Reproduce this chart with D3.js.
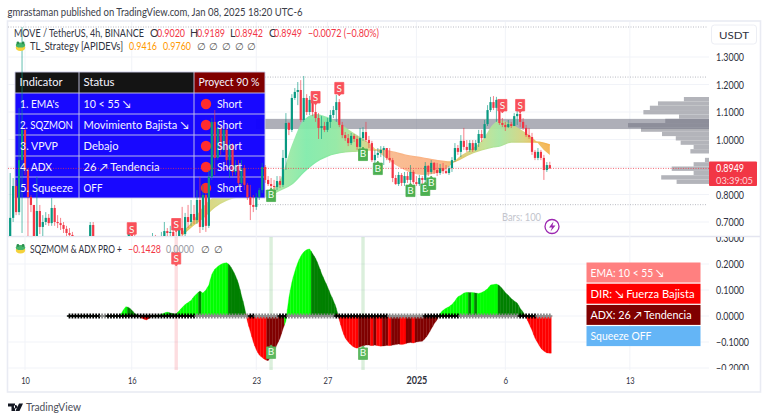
<!DOCTYPE html>
<html><head><meta charset="utf-8">
<script src="https://cdn.jsdelivr.net/npm/d3@7/dist/d3.min.js"></script>
<style>html,body{margin:0;padding:0;background:#fff}svg{display:block}text{font-family:Lato,"Noto Sans",sans-serif}</style>
</head><body><svg id="c" width="768" height="420"></svg>
<script>
// ---------- data ----------
const firstBar=-5, firstOpen=0.649;
const closes=[.715,.831,.736,.925,1.035,.889,.791,.762,.649,.740,.682,.700,.715,.696,.751,.700,.696,.689,.675,.660,.653,.642,.627,.616,.613,.620,.627,.689,.642,.620,.605,.598,.609,.602,.595,.605,.613,.609,.620,.635,.664,.649,.635,.624,.616,.624,.620,.631,.642,.631,.635,.649,.667,.660,.664,.649,.642,.678,.656,.718,.700,.729,.707,.780,.682,.798,.686,.864,1.064,.933,1.042,.962,1.035,.925,.980,.882,.907,.842,.896,.835,.791,.762,.755,.791,.816,.900,.853,.838,.831,.827,.849,.835,.933,1.060,1.035,1.151,1.173,1.180,1.071,1.151,1.100,1.144,1.100,1.078,1.042,1.049,1.035,1.064,1.089,1.107,1.136,1.053,1.016,1.005,.987,1.013,1.002,.973,1.005,1.027,.998,.987,.925,.944,.951,.962,.969,.933,.925,.860,.838,.871,.842,.867,.853,.882,.845,.838,.860,.853,.904,.882,.915,.889,.878,.896,.885,.878,.896,.925,.969,.955,.995,.973,.962,.987,.962,.987,1.020,1.005,1.056,1.107,1.136,1.115,1.144,1.060,1.053,1.045,1.056,1.049,1.085,1.093,1.064,1.042,1.016,1.009,.955,.933,.955,.933,.889,.907,.8949];
const highs=[.878,.860,.853,1.115,1.409,1.042,.896,.798,.744,.864,.762,.725,.736,.729,.787,.762,.725,.715,.700,.686,.678,.664,.649,.635,.631,.635,.642,.700,.700,.649,.627,.616,.624,.620,.613,.620,.627,.624,.635,.649,.678,.686,.664,.642,.635,.638,.635,.642,.660,.653,.649,.664,.700,.678,.686,.678,.671,.700,.755,.733,.762,.780,.762,.816,.864,.835,.809,.889,1.078,1.107,1.064,1.053,1.049,1.042,.998,.987,.925,.925,.925,.907,.842,.835,.798,.805,.824,.915,.907,.867,.860,.853,.867,.867,.962,1.096,1.064,1.165,1.187,1.209,1.216,1.231,1.165,1.158,1.162,1.140,1.096,1.085,1.064,1.078,1.107,1.122,1.162,1.147,1.064,1.027,1.020,1.024,1.020,1.013,1.042,1.045,1.064,1.013,.995,.962,.969,.976,.976,.969,.969,.933,.871,.882,.878,.882,.882,.907,.889,.867,.871,.867,.918,.907,.925,.918,.915,.911,.915,.907,.904,.936,.987,.980,1.016,1.042,.998,.998,.998,.998,1.035,1.035,1.071,1.125,1.155,1.158,1.155,1.133,1.078,1.064,1.071,1.064,1.096,1.107,1.100,1.078,1.053,1.042,1.024,.962,.969,.962,.944,.918,.9189];
const lows=[.635,.700,.725,.725,.660,.871,.649,.736,.635,.642,.656,.649,.689,.686,.686,.686,.678,.671,.660,.649,.638,.627,.613,.598,.598,.602,.605,.620,.616,.605,.591,.584,.591,.587,.580,.587,.595,.595,.598,.613,.627,.635,.616,.609,.602,.609,.605,.613,.620,.616,.620,.624,.635,.642,.642,.635,.627,.627,.642,.649,.678,.686,.693,.693,.660,.671,.664,.678,.853,.871,.925,.944,.955,.889,.860,.867,.871,.831,.831,.816,.780,.707,.736,.744,.780,.805,.842,.831,.816,.816,.816,.824,.827,.889,1.016,1.027,1.144,1.125,1.064,1.064,1.089,1.089,1.085,1.064,1.002,1.002,1.027,1.027,1.042,1.078,1.064,1.045,1.005,.995,.976,.980,.991,.962,.965,.995,.991,.969,.918,.907,.933,.936,.907,.925,.915,.845,.835,.831,.831,.831,.842,.842,.838,.831,.831,.816,.845,.867,.875,.875,.867,.871,.875,.875,.871,.882,.918,.944,.936,.962,.955,.955,.955,.958,.973,.991,1.005,1.049,1.100,1.107,1.064,1.053,1.045,1.031,1.042,1.042,1.049,1.053,1.045,1.035,1.009,1.002,.944,.925,.925,.925,.853,.882,.8942];
const emaBars=[53,56,60,64,68,72,78,82,86,90,94,98,102,108,112,116,120,124,128,134,140,144,146,150,154,158,160,164,168,172,175,177];
const emaFast=[.664,.696,.755,.795,.813,.816,.816,.816,.853,.980,1.071,1.093,1.082,1.045,1.016,.987,.947,.915,.889,.871,.882,.911,.933,.962,.995,1.056,1.071,1.056,1.031,.998,.962,.944];
const emaSlow=[.653,.682,.715,.755,.780,.791,.791,.795,.816,.838,.882,.918,.940,.955,.958,.962,.962,.955,.944,.933,.922,.918,.925,.947,.962,.973,.976,.991,.991,.991,.987,.980];
const cloudBars=[53,60,72,85,95,105,112,118,122,140,146,155,160,168,172,177];
const cloudColors=["#e8c35a","#d9d070","#cfe39a","#a9e8a0","#7deaa8","#8fe8a0","#b8e090","#eac77a","#f8b88a","#fbb183","#e4c468","#bfe08f","#a5e6a0","#d5d27c","#ecc060","#f6b04a"];
const vpTop=1.1545, vpBucket=0.0158;
const vpVolumes=[31,63,73,81,37,54,100,84,58,41,35,19,23,0,5,19,46,19,59,40];
const bandPrices=[1.075,1.038];
const sellBars=[36,51,98,106,161,167], sellPrices=[.674,.689,1.151,1.184,1.122,1.122];
const buyBars=[83,114,119,130,135,137], buyPrices=[.798,.947,.896,.816,.820,.842];
const dottedPrices=[1.227,.763];
const lastPrice=.8949;
const priceTicks=[1.3,1.2,1.1,1.0,.8,.7];
const momFirstBar=15;
const momentum=[0,0,0,0,0,0,0,0,0,0,0,0,0,0,0,0,0,0,.02,.036,.033,.023,.01,.002,-.005,-.012,-.015,-.008,.001,.002,.003,.006,.012,.015,.012,.009,.008,.02,.033,.044,.052,.06,.075,.087,.096,.088,.10,.119,.16,.18,.19,.198,.203,.205,.196,.178,.155,.125,.08,.036,-.02,-.06,-.10,-.13,-.15,-.16,-.168,-.172,-.155,-.135,-.11,-.086,-.05,-.02,.07,.13,.171,.205,.23,.246,.255,.258,.24,.222,.195,.164,.138,.113,.085,.06,.03,-.015,-.055,-.085,-.10,-.112,-.12,-.124,-.118,-.114,-.112,-.112,-.114,-.112,-.114,-.116,-.115,-.113,-.114,-.112,-.11,-.108,-.11,-.108,-.104,-.102,-.104,-.10,-.098,-.097,-.086,-.07,-.05,-.03,-.014,.01,.022,.03,.036,.044,.058,.074,.08,.088,.091,.09,.09,.088,.087,.09,.096,.105,.119,.121,.123,.117,.105,.09,.08,.067,.058,.05,.03,.015,-.005,-.03,-.055,-.085,-.105,-.124,-.135,-.142,-.1428];
const momRuns=[[34,"l"],[38,"d"],[41,"r"],[42,"m"],[48,"l"],[51,"d"],[58,"l"],[59,"d"],[68,"l"],[74,"d"],[81,"r"],[87,"m"],[96,"l"],[105,"d"],[112,"r"],[116,"m"],[117,"r"],[118,"m"],[120,"r"],[122,"m"],[123,"r"],[126,"m"],[128,"r"],[130,"m"],[131,"r"],[139,"m"],[149,"l"],[150,"d"],[151,"l"],[152,"d"],[159,"l"],[168,"d"],[177,"r"]];
const momColors={l:"#00ff00",d:"#008000",r:"#ff0000",m:"#800000"};
const squeezeRuns=[[25,"k"],[27,"g"],[57,"k"],[75,"g"],[77,"k"],[85,"g"],[88,"k"],[104,"g"],[122,"k"],[134,"g"],[146,"k"],[166,"g"],[172,"k"],[177,"g"]];
const oscSell=[51], oscSellVals=[.219], oscBuy=[83,114], oscBuyVals=[-.138,-.142];
const oscTicks=[.3,.2,.1,0,-.1,-.2];
const xTickBars=[0,36,78,102,132,162,204];
const xTickLabels=["10","16","23","27","2025","6","13"];
const tableHeader=["Indicator","Status","Proyect 90 %"];
const tableNames=["1. EMA's","2. SQZMON","3. VPVP","4. ADX","5. Squeeze"];
const tableStatus=["10 < 55 ↘","Movimiento Bajista ↘","Debajo","26 ↗ Tendencia","OFF"];
const sideLabels=["EMA: 10 < 55 ↘","DIR: ↘ Fuerza Bajista","ADX: 26 ↗ Tendencia","Squeeze OFF"];
const sideColors=["#ff8080","#ff0000","#800000","#64b5f6"];

// ---------- scales ----------
const svg=d3.select("#c");
const FONT=11, SMALL=10.6;
const x=d3.scaleLinear().domain([0,204]).range([25,25+204*2.965]);
const yP=d3.scaleLinear().domain([1.3,.7]).range([57,222]);
const yO=d3.scaleLinear().domain([.2,-.2]).range([264,368]);
const L=8,R=709,PT=22,PB=236,OT=237,OB=370;
const defs=svg.append("defs");
defs.append("clipPath").attr("id","cp").append("rect").attr("x",L).attr("y",PT).attr("width",R-L).attr("height",PB-PT);
defs.append("clipPath").attr("id","co").append("rect").attr("x",L).attr("y",OT).attr("width",R-L).attr("height",OB-OT);
defs.append("clipPath").attr("id","ca").append("rect").attr("x",R).attr("y",OT).attr("width",50).attr("height",OB-OT);
const grid="#f1f3f8";
// text with a measured width
function fit(sel,w){return sel.attr("textLength",w).attr("lengthAdjust","spacingAndGlyphs");}

// frame
svg.append("rect").attr("x",7.5).attr("y",21).attr("width",753).attr("height",371).attr("fill","#fff").attr("stroke","#e9ebf3").attr("stroke-width",1.6);
svg.append("line").attr("x1",8).attr("x2",760).attr("y1",236.5).attr("y2",236.5).attr("stroke","#e4e5f0").attr("stroke-width",1.5);

// grid
const gridG=svg.append("g");
gridG.selectAll(".v").data(xTickBars).join("line").attr("x1",d=>x(d)).attr("x2",d=>x(d)).attr("y1",PT).attr("y2",OB).attr("stroke",grid);
gridG.selectAll(".h").data([1.3,1.2,1.1,1,.9,.8,.7]).join("line").attr("x1",L).attr("x2",R).attr("y1",d=>yP(d)).attr("y2",d=>yP(d)).attr("stroke",grid);
gridG.selectAll(".o").data(oscTicks.slice(1)).join("line").attr("x1",L).attr("x2",R).attr("y1",d=>yO(d)).attr("y2",d=>yO(d)).attr("stroke",grid);

// dotted
svg.append("line").attr("x1",8).attr("x2",707).attr("y1",27).attr("y2",27).attr("stroke","#b8bac2").attr("stroke-dasharray","1 1.5");
svg.selectAll(".dot").data(dottedPrices).join("line").attr("x1",255).attr("x2",707).attr("y1",d=>yP(d)).attr("y2",d=>yP(d)).attr("stroke","#b8bac2").attr("stroke-dasharray","1 1.5");

const pane=svg.append("g").attr("clip-path","url(#cp)");
// volume profile
const vpX=d3.scaleLinear().domain([0,100]).range([R,628]);
pane.selectAll(".vp").data(vpVolumes).join("rect")
  .attr("x",d=>vpX(d)).attr("width",d=>R-vpX(d))
  .attr("y",(d,i)=>yP(vpTop-i*vpBucket)).attr("height",yP(0)-yP(vpBucket))
  .attr("fill","#b3b4ba");
// band
pane.append("rect").attr("x",256).attr("width",R-256).attr("y",yP(bandPrices[0])).attr("height",yP(bandPrices[1])-yP(bandPrices[0])).attr("fill","#6f7080").attr("opacity",.56);

// cloud
const grad=defs.append("linearGradient").attr("id","cloud").attr("gradientUnits","userSpaceOnUse")
  .attr("x1",x(cloudBars[0])).attr("x2",x(cloudBars[cloudBars.length-1])).attr("y1",0).attr("y2",0);
cloudBars.forEach((b,i)=>grad.append("stop").attr("offset",(b-cloudBars[0])/(cloudBars[cloudBars.length-1]-cloudBars[0])).attr("stop-color",cloudColors[i]));
const area=d3.area().x((d,i)=>x(emaBars[i])).y0((d,i)=>yP(emaSlow[i])).y1((d,i)=>yP(emaFast[i])).curve(d3.curveMonotoneX);
pane.append("path").attr("d",area(emaBars)).attr("fill","url(#cloud)").attr("opacity",.92);
const slowLine=d3.line().x((d,i)=>x(emaBars[i])).y((d,i)=>yP(emaSlow[i])).curve(d3.curveMonotoneX);
pane.append("path").attr("d",slowLine(emaBars)).attr("fill","none").attr("stroke","url(#cloud)").attr("stroke-width",1.4);

// table backgrounds
const colX=[15,79,194,265], rowY=[72,93,114,135,156,177,198];
const tb=svg.append("g");
[0,1,2].forEach(c=>tb.append("rect").attr("x",colX[c]).attr("y",rowY[0]).attr("width",colX[c+1]-colX[c]).attr("height",rowY[1]-rowY[0]).attr("fill",c==2?"#800000":"#141414"));
tb.append("rect").attr("x",colX[0]).attr("y",rowY[1]).attr("width",colX[3]-colX[0]).attr("height",rowY[6]-rowY[1]).attr("fill","#1100ff").attr("opacity",.97);
rowY.forEach(y=>tb.append("line").attr("x1",colX[0]).attr("x2",colX[3]).attr("y1",y).attr("y2",y).attr("stroke","#c9c9e8").attr("stroke-width",.9));
colX.forEach(cx=>tb.append("line").attr("x1",cx).attr("x2",cx).attr("y1",rowY[0]).attr("y2",rowY[6]).attr("stroke","#c9c9e8").attr("stroke-width",.9));
tb.selectAll(".dotr").data(tableNames).join("circle").attr("cx",206).attr("cy",(d,i)=>(rowY[i+1]+rowY[i+2])/2+.5).attr("r",5.2).attr("fill","#ff2d2d");

// candles
const bars=closes.map((c,i)=>({bar:firstBar+i,o:i?closes[i-1]:firstOpen,c,h:highs[i],l:lows[i]}));
const up="#089981",dn="#f23645";
const cg=svg.append("g").attr("clip-path","url(#cp)");
cg.selectAll(".w").data(bars).join("line").attr("x1",d=>x(d.bar)).attr("x2",d=>x(d.bar)).attr("y1",d=>yP(d.h)).attr("y2",d=>yP(d.l)).attr("stroke",d=>d.c>=d.o?up:dn).attr("stroke-opacity",.7).attr("stroke-width",.9);
cg.selectAll(".b").data(bars).join("rect").attr("x",d=>x(d.bar)-1.1).attr("width",2.2).attr("y",d=>yP(Math.max(d.o,d.c))).attr("height",d=>Math.max(.8,Math.abs(yP(d.o)-yP(d.c)))).attr("fill",d=>d.c>=d.o?up:dn);
// last price
svg.append("line").attr("x1",L).attr("x2",R).attr("y1",yP(lastPrice)).attr("y2",yP(lastPrice)).attr("stroke","#f23645").attr("stroke-opacity",.75).attr("stroke-dasharray","1 1.5");

// table text
const tt=svg.append("g").attr("fill","#f4f4ff").attr("font-size",FONT);
const headW=[43,31,61], nameW=[39,53,38,32,53], statusW=[47,105,35,76,19];
tableHeader.forEach((t,c)=>fit(tt.append("text").attr("x",colX[c]+4.5).attr("y",86).text(t),headW[c]));
tableNames.forEach((t,i)=>{const y=(rowY[i+1]+rowY[i+2])/2+4;
  fit(tt.append("text").attr("x",colX[0]+5).attr("y",y).text(t),nameW[i]);
  fit(tt.append("text").attr("x",colX[1]+4.5).attr("y",y).text(tableStatus[i]),statusW[i]);
  fit(tt.append("text").attr("x",217).attr("y",y).text("Short"),25);});

// markers
function marker(g,bx,cy,label,col){
  const h=g.append("g").attr("transform",`translate(${bx},${cy})`);
  const s=label=="S"?1:-1;
  h.append("path").attr("d",d3.line()([[-4.5,-6.5*s],[4.5,-6.5*s],[4.5,5*s],[1.5,5*s],[0,7*s],[-1.5,5*s],[-4.5,5*s]])+"Z").attr("fill",col).attr("stroke",col).attr("stroke-width",.8).attr("stroke-linejoin","round");
  h.append("text").attr("y",3.4).attr("text-anchor","middle").attr("font-size",10).attr("fill","#f3fff3").text(label);
}
const mk=svg.append("g").attr("clip-path","url(#cp)");
sellBars.forEach((b,i)=>marker(mk,x(b),yP(sellPrices[i]),"S","#f9505a"));
buyBars.forEach((b,i)=>marker(mk,x(b),yP(buyPrices[i]),"B","#4caf50"));

// oscillator
const runLookup=(runs,b)=>runs.find(r=>b<=r[0])[1];
const mom=momentum.map((v,i)=>({bar:momFirstBar+i,v}));
const og=svg.append("g").attr("clip-path","url(#co)");
oscSell.forEach(b=>og.append("rect").attr("x",x(b)-1.7).attr("width",3.4).attr("y",OT).attr("height",OB-OT).attr("fill","#f23645").attr("opacity",.17));
oscBuy.forEach(b=>og.append("rect").attr("x",x(b)-1.7).attr("width",3.4).attr("y",OT).attr("height",OB-OT).attr("fill","#4caf50").attr("opacity",.2));
// each bar is a slice of the area through its neighbours, so the outline stays smooth
const slice=d3.area().x(p=>x(p[0])).y0(yO(0)).y1(p=>yO(p[1]));
og.selectAll(".m").data(mom).join("path")
  .attr("d",(d,i)=>{const pv=i?momentum[i-1]:d.v, nx=i<momentum.length-1?momentum[i+1]:d.v;
    return slice([[d.bar-.5,(pv+d.v)/2],[d.bar,d.v],[d.bar+.5,(nx+d.v)/2]]);})
  .attr("fill",d=>momColors[runLookup(momRuns,d.bar)])
  .attr("stroke",d=>momColors[runLookup(momRuns,d.bar)]).attr("stroke-width",.3);
const cross=d3.symbol().type(d3.symbolCross).size(15);
og.selectAll(".q").data(mom).join("path").attr("d",cross).attr("transform",d=>`translate(${x(d.bar)},${yO(0)})`)
  .attr("fill",d=>runLookup(squeezeRuns,d.bar)=="k"?"#000":"#8c8c8c");
oscSell.forEach((b,i)=>marker(og,x(b),yO(oscSellVals[i]),"S","#fb5a60"));
oscBuy.forEach((b,i)=>marker(og,x(b),yO(oscBuyVals[i]),"B","#5cb85f"));

// side labels
const sl=svg.append("g"), sideW=[73,104,101,61];
sideLabels.forEach((t,i)=>{const y=262.5+i*21.2;
  sl.append("rect").attr("x",586.5).attr("y",y).attr("width",114).attr("height",20).attr("fill",sideColors[i]);
  fit(sl.append("text").attr("x",590.5).attr("y",y+14).attr("fill","#fff").attr("font-size",FONT).text(t),sideW[i]);});

// right axes
function axisStyle(g){g.select(".domain").remove();g.selectAll(".tick line").remove();
  g.selectAll("text").attr("x",0).attr("dy",".34em").attr("text-anchor","start").attr("fill","#2f3240").attr("font-family",'Lato,"Noto Sans",sans-serif').attr("font-size",10.8)
   .attr("lengthAdjust","spacingAndGlyphs").attr("textLength",d=>d<0?33:28);}
svg.append("g").attr("transform","translate(716,0)").call(d3.axisRight(yP).tickValues(priceTicks).tickFormat(d3.format(".4f"))).call(axisStyle);
svg.append("g").attr("clip-path","url(#ca)").append("g").attr("transform","translate(716,0)").call(d3.axisRight(yO).tickValues(oscTicks).tickFormat(d3.format(".4f"))).call(axisStyle);

// time axis
const xa=svg.append("g").attr("transform","translate(0,370)").call(d3.axisBottom(x).tickValues(xTickBars).tickFormat((d,i)=>xTickLabels[i]));
xa.select(".domain").remove();xa.selectAll(".tick line").remove();
xa.selectAll("text").attr("y",7).attr("fill","#2f3240").attr("font-family",'Lato,"Noto Sans",sans-serif').attr("font-size",10.4)
  .attr("font-weight",(d,i)=>xTickLabels[i]=="2025"?700:400)
  .attr("lengthAdjust","spacingAndGlyphs").attr("textLength",(d,i)=>xTickLabels[i].length*4.6+(xTickLabels[i].length>1?-.5:0)+(xTickLabels[i]=="2025"?3:0));

// price tag
svg.append("rect").attr("x",709).attr("y",161.5).attr("width",48).attr("height",24.5).attr("rx",1).attr("fill","#f23645");
fit(svg.append("text").attr("x",716).attr("y",172).attr("fill","#fff").attr("font-size",10.8).text("0.8949"),28);
fit(svg.append("text").attr("x",716).attr("y",183.5).attr("fill","#ffd5d8").attr("font-size",10.4).text("03:39:05"),37);
// usdt
svg.append("rect").attr("x",711.5).attr("y",25).attr("width",45).attr("height",19).attr("rx",3).attr("fill","#fff").attr("stroke","#eceef4");
fit(svg.append("text").attr("x",719).attr("y",38.5).attr("fill","#2f3240").attr("font-size",10.4).text("USDT"),30);

// header texts
const T=(x0,y,t,col,fs,w)=>{const s=svg.append("text").attr("x",x0).attr("y",y).attr("fill",col).attr("font-size",fs).text(t);return w?fit(s,w):s;};
T(7.5,15.5,"gmrastaman published on TradingView.com, Jan 08, 2025 18:20 UTC-6","#3a3d48",SMALL,295);
T(14,36.5,"MOVE / TetherUS, 4h, BINANCE","#2f3240",SMALL,130);
const red="#f23645",orange="#ff9800";
[[150,"O",157,"0.9020"],[190,"H",197,"0.9189"],[230,"L",235,"0.8942"],[269,"C",274,"0.8949"]].forEach(([xa0,a,xb,b])=>{T(xa0,36.5,a,"#2f3240",SMALL);T(xb,36.5,b,red,SMALL,28);});
T(308,36.5,"−0.0072 (−0.80%)",red,SMALL,71);
function frog(cx,cy){
  svg.append("ellipse").attr("cx",cx).attr("cy",cy+1.6).attr("rx",4.7).attr("ry",3.4).attr("fill","#f4d23c");
  svg.append("ellipse").attr("cx",cx).attr("cy",cy-1).attr("rx",4.7).attr("ry",2.6).attr("fill","#45b56a");
  [-2.6,2.6].forEach(d=>svg.append("circle").attr("cx",cx+d).attr("cy",cy-3).attr("r",1.4).attr("fill","#2a8f4f"));
}
frog(20.5,46);
T(30,50,"TL_Strategy [APIDEVs]","#2f3240",SMALL,93);
T(129,50,"0.9416",orange,SMALL,28);T(163,50,"0.9760",orange,SMALL,28);
[197,209,222,235,247].forEach(xx=>T(xx,50,"∅","#555",SMALL-.6));
frog(20.5,248.5);
T(30,252.5,"SQZMOM & ADX PRO +","#2f3240",SMALL,92);
T(128,252.5,"−0.1428",red,SMALL,33);T(166,252.5,"0.0000","#9a9ba3",SMALL,28);
[201,214].forEach(xx=>T(xx,252.5,"∅","#555",SMALL-.6));
T(502,220.5,"Bars: 100","#c3c5cd",SMALL,39);
// lightning
svg.append("circle").attr("cx",552).attr("cy",226.5).attr("r",7).attr("fill","#fff").attr("stroke","#9c27b0").attr("stroke-width",1.3);
svg.append("path").attr("d","M553.5 221.5L549 227.5H552L550.5 231.5L555.5 225.5H552.5Z").attr("fill","#9c27b0");
// TradingView logo
svg.append("path").attr("d","M8 403.5H15V411H11.5V406.5H8ZM15.5 405A1.7 1.7 0 1 0 15.6 405ZM19 403.5H23L19.5 411H15.5Z").attr("fill","#131722");
T(26,410.5,"TradingView","#4c4f5a",11.5,55);
</script></body></html>
